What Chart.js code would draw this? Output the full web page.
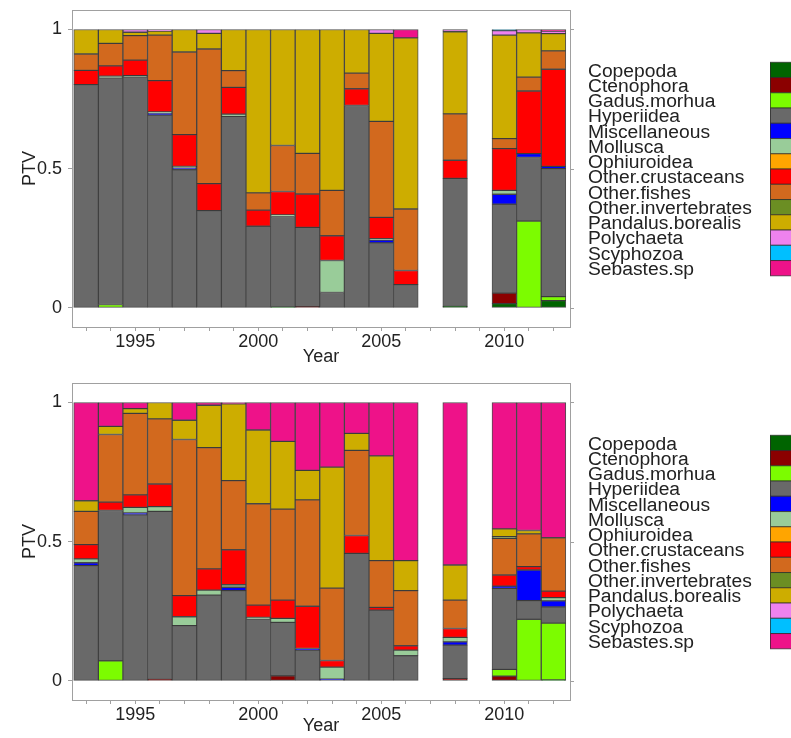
<!DOCTYPE html>
<html><head><meta charset="utf-8">
<script src="https://cdn.jsdelivr.net/npm/chart.js@4"></script>
<style>body{margin:0;background:#fff;width:791px;height:738px;overflow:hidden}canvas{display:block}</style>
</head><body>
<canvas id="c1" width="791" height="369"></canvas>
<canvas id="c2" width="791" height="369"></canvas>
<script>
const years = [1993,1994,1995,1996,1997,1998,1999,2000,2001,2002,2003,2004,2005,2006,2007,2008,2009,2010,2011,2012];
const yTicks = [0, 0.5, 1];
const labelYears = [1995, 2000, 2005, 2010];
const species = ['Copepoda','Ctenophora','Gadus.morhua','Hyperiidea','Miscellaneous','Mollusca','Ophiuroidea','Other.crustaceans','Other.fishes','Other.invertebrates','Pandalus.borealis','Polychaeta','Scyphozoa','Sebastes.sp'];
const colors = ['#006400','#8B0000','#7CFC00','#696969','#0000FF','#99CC99','#FFA500','#FF0000','#D2691E','#6B8E23','#CDAD00','#EE82EE','#00BFFF','#EE1289'];

// ---- top panel (one value per year, null = no sample) ----
const topCopepoda      = [0,0,0,0,0,0,0,0,0.003,0,0,0,0,0,null,0.005,null,0.015,0,0.026];
const topCtenophora    = [0,0,0,0,0,0,0,0,0,0.004,0,0,0,0,null,0,null,0.038,0,0];
const topGadus         = [0,0.012,0,0,0,0,0,0,0,0,0,0,0,0,null,0,null,0,0.312,0.014];
const topHyperiidea    = [0.802,0.814,0.830,0.692,0.496,0.349,0.688,0.293,0.325,0.285,0.055,0.727,0.233,0.083,null,0.460,null,0.319,0.228,0.460];
const topMisc          = [0,0,0,0.008,0.007,0,0,0,0,0,0,0,0.010,0,null,0,null,0.036,0.014,0.008];
const topMollusca      = [0,0.006,0.004,0.004,0.005,0,0.008,0,0.006,0,0.115,0,0.005,0,null,0,null,0.014,0,0];
const topOphiuroidea   = [0,0,0,0,0,0,0,0,0,0,0,0,0,0,null,0,null,0,0,0];
const topOtherCrust    = [0.051,0.037,0.056,0.112,0.114,0.097,0.096,0.058,0.084,0.120,0.089,0.060,0.077,0.051,null,0.065,null,0.150,0.225,0.349];
const topOtherFish     = [0.059,0.081,0.088,0.164,0.297,0.484,0.060,0.062,0.165,0.146,0.163,0.056,0.345,0.221,null,0.167,null,0.036,0.050,0.066];
const topOtherInv      = [0,0,0,0,0,0,0,0,0,0,0,0,0,0,null,0,null,0,0,0];
const topPandalus      = [0.088,0.050,0.012,0.014,0.081,0.056,0.148,0.587,0.417,0.445,0.578,0.157,0.316,0.615,null,0.295,null,0.372,0.159,0.062];
const topPolychaeta    = [0,0,0.010,0.006,0,0.014,0,0,0,0,0,0,0.014,0,null,0.008,null,0.016,0.012,0.009];
const topScyphozoa     = [0,0,0,0,0,0,0,0,0,0,0,0,0,0,null,0,null,0.004,0,0];
const topSebastes      = [0,0,0,0,0,0,0,0,0,0,0,0,0,0.030,null,0,null,0,0,0.006];

// ---- bottom panel ----
const botCopepoda      = [0,0,0,0,0,0,0,0,0,0,0,0,0,0,null,0,null,0,0,0.003];
const botCtenophora    = [0,0,0,0.005,0,0,0,0,0.018,0,0,0,0,0,null,0.008,null,0.017,0,0];
const botGadus         = [0,0.072,0,0,0,0,0,0,0,0,0,0,0,0,null,0,null,0.024,0.221,0.204];
const botHyperiidea    = [0.414,0.540,0.596,0.604,0.198,0.308,0.324,0.222,0.192,0.110,0.003,0.458,0.254,0.090,null,0.120,null,0.291,0.067,0.058];
const botMisc          = [0.010,0,0.007,0,0,0,0.012,0,0,0.006,0.003,0,0,0,null,0.012,null,0.008,0.110,0.022];
const botMollusca      = [0.014,0,0.020,0.017,0.032,0.018,0.009,0.006,0.014,0,0.043,0,0,0.020,null,0.016,null,0,0,0.012];
const botOphiuroidea   = [0,0,0,0,0,0,0,0,0,0,0,0,0,0,null,0,null,0,0,0];
const botOtherCrust    = [0.051,0.030,0.045,0.081,0.076,0.076,0.126,0.044,0.066,0.152,0.024,0.064,0.010,0.016,null,0.032,null,0.040,0.012,0.023];
const botOtherFish     = [0.120,0.243,0.293,0.234,0.561,0.436,0.248,0.364,0.327,0.382,0.260,0.306,0.168,0.198,null,0.102,null,0.132,0.118,0.192];
const botOtherInv      = [0,0,0,0,0,0,0,0,0,0,0,0,0,0,null,0,null,0.006,0,0];
const botPandalus      = [0.038,0.029,0.017,0.059,0.069,0.152,0.276,0.265,0.243,0.106,0.435,0.061,0.376,0.108,null,0.126,null,0.028,0.012,0];
const botPolychaeta    = [0,0,0,0,0,0,0,0,0,0,0,0,0,0,null,0,null,0,0,0];
const botScyphozoa     = [0,0,0,0,0,0,0,0,0,0,0,0,0,0,null,0,null,0,0,0];
const botSebastes      = [0.353,0.086,0.022,0,0.064,0.010,0.005,0.099,0.140,0.244,0.232,0.111,0.192,0.568,null,0.584,null,0.454,0.460,0.486];

const topSeries = [topCopepoda,topCtenophora,topGadus,topHyperiidea,topMisc,topMollusca,topOphiuroidea,topOtherCrust,topOtherFish,topOtherInv,topPandalus,topPolychaeta,topScyphozoa,topSebastes];
const botSeries = [botCopepoda,botCtenophora,botGadus,botHyperiidea,botMisc,botMollusca,botOphiuroidea,botOtherCrust,botOtherFish,botOtherInv,botPandalus,botPolychaeta,botScyphozoa,botSebastes];

const FONT = {family:'"Liberation Sans", Arial, sans-serif', size:18};
const TXT = '#222';
const AXC = '#a0a0a0';

const framePlugin = {
  id:'frame',
  afterDraw(chart){
    const ctx = chart.ctx, a = chart.chartArea, ys = chart.scales.y;
    ctx.save();
    ctx.strokeStyle = AXC; ctx.lineWidth = 1;
    ctx.strokeRect(Math.round(a.left)+0.5, Math.round(a.top)+0.5, Math.round(a.right-a.left), Math.round(a.bottom-a.top));
    ys.ticks.forEach(t=>{
      const p = Math.round(ys.getPixelForValue(t.value))+0.5;
      ctx.beginPath(); ctx.moveTo(a.right, p); ctx.lineTo(a.right+4, p); ctx.stroke();
    });
    ctx.restore();
  }
};
const legendPlugin = {
  id:'sideLegend',
  afterDraw(chart){
    const ctx = chart.ctx, a = chart.chartArea;
    const step = 15.25;
    species.forEach((s,i)=>{
      ctx.save();
      ctx.font = '18px "Liberation Sans", Arial, sans-serif';
      ctx.textAlign = 'left'; ctx.textBaseline = 'alphabetic';
      ctx.fillStyle = TXT;
      ctx.translate(588, a.top + 66.5 + step*i);
      ctx.scale(1.07, 1);
      ctx.fillText(s, 0, 0);
      ctx.restore();
      ctx.save();
      const by = a.top + 52.3 + step*i;
      ctx.fillStyle = colors[i];
      ctx.fillRect(770, by, 30, step);
      ctx.strokeStyle = 'rgba(40,40,40,0.7)'; ctx.lineWidth = 1;
      ctx.strokeRect(770.5, by, 30, step);
      ctx.restore();
    });
  }
};

function makeChart(id, series, topPad, xAxisH){
  return new Chart(document.getElementById(id), {
    type:'bar',
    data:{
      labels: years,
      datasets: species.map((s,i)=>({
        label:s,
        data: series[i].map(v => v === 0 ? null : v),
        backgroundColor: colors[i],
        borderColor:'rgba(35,35,35,0.8)',
        borderWidth:1,
        borderSkipped:false,
        barPercentage:1,
        categoryPercentage:1
      }))
    },
    options:{
      responsive:false, animation:false,
      layout:{padding:{left:18, top:topPad, right:221, bottom:0}},
      plugins:{legend:{display:false}, tooltip:{enabled:false}},
      scales:{
        x:{
          type:'linear', stacked:true, min:1992.43, max:2012.67, offset:false,
          afterBuildTicks: s => { s.ticks = years.map(v => ({value:v})); },
          afterFit: s => { s.height = xAxisH; s.paddingLeft = 0; s.paddingRight = 0; },
          ticks:{autoSkip:false, maxRotation:0, padding:0, font:FONT, color:TXT,
            callback: v => labelYears.includes(v) ? String(v) : ''},
          grid:{drawOnChartArea:false, offset:false, tickLength:4, color:AXC},
          border:{display:false},
          title:{display:true, text:'Year', font:FONT, color:TXT, padding:{top:1,bottom:1}}
        },
        y:{
          stacked:true, min:-0.069, max:1.07,
          afterBuildTicks: s => { s.ticks = yTicks.map(v => ({value:v})); },
          afterFit: s => { s.width = 54; s.paddingTop = 0; s.paddingBottom = 0; },
          ticks:{padding:6, font:FONT, color:TXT, callback: v => String(v)},
          grid:{drawOnChartArea:false, tickLength:4, color:AXC},
          border:{display:false},
          title:{display:true, text:'PTV', font:FONT, color:TXT, padding:{top:1,bottom:1}}
        }
      }
    },
    plugins:[framePlugin, legendPlugin]
  });
}
makeChart('c1', topSeries, 10, 42);
makeChart('c2', botSeries, 14, 38);
</script>
</body></html>
